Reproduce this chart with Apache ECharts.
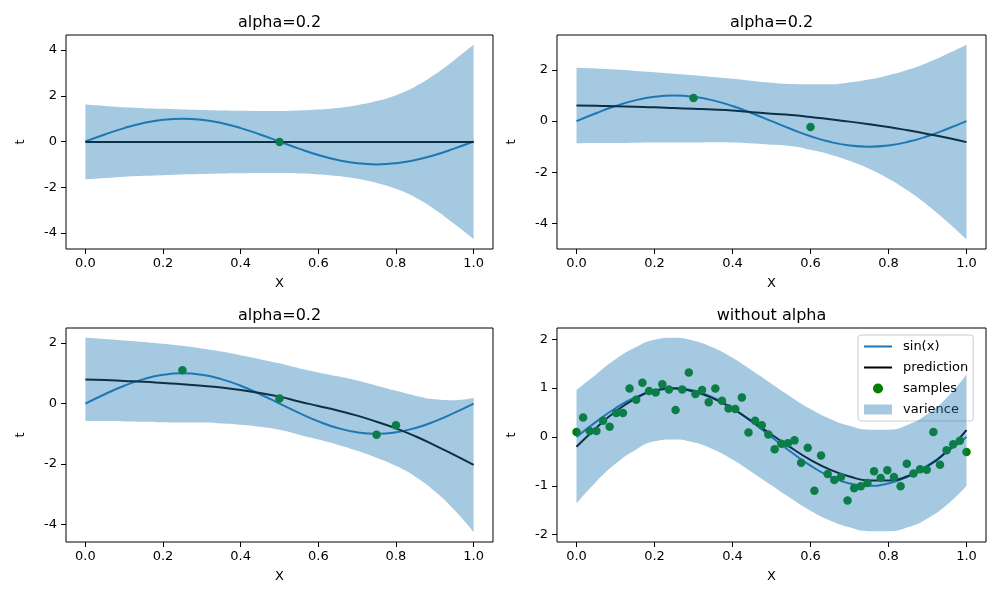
<!DOCTYPE html>
<html><head><meta charset="utf-8">
<script src="https://cdn.jsdelivr.net/npm/echarts@6/dist/echarts.min.js"></script>
<style>html,body{margin:0;padding:0;background:#fff}#c{width:1000px;height:600px}</style>
</head><body><div id="c"></div>
<script>
// ---- data ----
const xGrid = [0,0.05,0.1,0.15,0.2,0.25,0.3,0.35,0.4,0.45,0.5,0.55,0.6,0.65,0.7,0.75,0.8,0.85,0.9,0.95,1.0];
const sinVals = [0,0.309,0.588,0.809,0.951,1,0.951,0.809,0.588,0.309,0,-0.309,-0.588,-0.809,-0.951,-1,-0.951,-0.809,-0.588,-0.309,0];

// subplot 1 (alpha=0.2, one sample)
const pred1 = [-0.02,-0.02,-0.02,-0.02,-0.02,-0.02,-0.02,-0.02,-0.02,-0.02,-0.02,-0.02,-0.02,-0.02,-0.02,-0.02,-0.02,-0.02,-0.02,-0.02,-0.02];
const upper1 = [1.62,1.56,1.50,1.46,1.43,1.40,1.38,1.36,1.35,1.34,1.34,1.36,1.40,1.47,1.59,1.77,2.03,2.41,2.93,3.56,4.23];
const lower1 = [-1.66,-1.60,-1.54,-1.50,-1.47,-1.44,-1.42,-1.40,-1.39,-1.38,-1.38,-1.40,-1.44,-1.51,-1.63,-1.81,-2.07,-2.45,-2.97,-3.60,-4.27];
const samplesX1 = [0.5];
const samplesY1 = [-0.02];

// subplot 2 (alpha=0.2, two samples)
const pred2 = [0.61,0.60,0.58,0.56,0.54,0.51,0.48,0.45,0.41,0.35,0.29,0.24,0.16,0.07,-0.02,-0.12,-0.23,-0.36,-0.50,-0.65,-0.82];
const upper2 = [2.08,2.05,2.01,1.96,1.91,1.85,1.79,1.72,1.65,1.57,1.50,1.45,1.44,1.44,1.51,1.62,1.79,2.00,2.28,2.62,2.98];
const lower2 = [-0.86,-0.85,-0.85,-0.84,-0.83,-0.83,-0.83,-0.82,-0.83,-0.87,-0.92,-0.97,-1.12,-1.30,-1.55,-1.86,-2.25,-2.72,-3.28,-3.92,-4.62];
const samplesX2 = [0.3, 0.6];
const samplesY2 = [0.90, -0.23];

// subplot 3 (alpha=0.2, four samples)
const pred3 = [0.80,0.78,0.75,0.72,0.68,0.64,0.59,0.53,0.45,0.35,0.23,0.07,-0.08,-0.23,-0.40,-0.60,-0.82,-1.08,-1.38,-1.70,-2.03];
const upper3 = [2.18,2.14,2.09,2.04,1.98,1.91,1.82,1.72,1.60,1.47,1.33,1.17,1.03,0.90,0.76,0.59,0.42,0.26,0.14,0.11,0.19];
const lower3 = [-0.58,-0.58,-0.59,-0.60,-0.62,-0.63,-0.63,-0.66,-0.70,-0.77,-0.87,-1.03,-1.19,-1.36,-1.56,-1.79,-2.06,-2.42,-2.90,-3.51,-4.25];
const samplesX3 = [0.25, 0.5, 0.75, 0.8];
const samplesY3 = [1.10, 0.17, -1.03, -0.72];

// subplot 4 (without alpha, 60 samples)
const pred4 = [-0.20,0.18,0.52,0.78,0.95,0.99,0.93,0.79,0.58,0.32,0.05,-0.22,-0.47,-0.67,-0.81,-0.89,-0.89,-0.80,-0.60,-0.29,0.14];
const upper4 = [0.96,1.28,1.59,1.83,1.99,2.03,1.97,1.83,1.62,1.36,1.09,0.82,0.57,0.37,0.23,0.15,0.15,0.25,0.47,0.81,1.28];
const lower4 = [-1.36,-0.92,-0.55,-0.27,-0.09,-0.05,-0.11,-0.25,-0.46,-0.72,-0.99,-1.26,-1.51,-1.71,-1.85,-1.93,-1.93,-1.85,-1.67,-1.39,-1.00];
const samplesX4 = [0,0.017,0.034,0.051,0.068,0.085,0.102,0.119,0.136,0.153,0.169,0.186,0.203,0.22,0.237,0.254,0.271,0.288,0.305,0.322,0.339,0.356,0.373,0.39,0.407,0.424,0.441,0.458,0.475,0.492,0.508,0.525,0.542,0.559,0.576,0.593,0.61,0.627,0.644,0.661,0.678,0.695,0.712,0.729,0.746,0.763,0.78,0.797,0.814,0.831,0.847,0.864,0.881,0.898,0.915,0.932,0.949,0.966,0.983,1.0];
const samplesY4 = [0.10,0.40,0.12,0.12,0.33,0.21,0.49,0.49,0.99,0.76,1.11,0.94,0.91,1.08,0.97,0.55,0.97,1.32,0.88,0.96,0.71,0.99,0.74,0.58,0.57,0.81,0.09,0.33,0.24,0.05,-0.25,-0.14,-0.13,-0.07,-0.53,-0.22,-1.10,-0.38,-0.76,-0.88,-0.82,-1.30,-1.05,-1.01,-0.94,-0.70,-0.84,-0.68,-0.82,-1.01,-0.55,-0.75,-0.66,-0.67,0.10,-0.57,-0.27,-0.15,-0.08,-0.31];

const xTicks = [0,0.2,0.4,0.6,0.8,1.0];
const yTicks1 = [-4,-2,0,2,4];
const yTicks2 = [-4,-2,0,2];
const yTicks3 = [-4,-2,0,2];
const yTicks4 = [-2,-1,0,1,2];
const titles = ['alpha=0.2','alpha=0.2','alpha=0.2','without alpha'];
const legendNames = ['sin(x)','prediction','samples','varience'];

// ---- layout ----
const FONT = 'DejaVu Sans';
const grids = [
  {left:66, top:35, width:427, height:214},
  {left:557, top:35, width:429, height:214},
  {left:66, top:328, width:427, height:214},
  {left:557, top:328, width:429, height:214}
];
const yRanges = [[-4.7,4.66],[-4.99,3.36],[-4.58,2.5],[-2.15,2.23]];
const yTicks = [yTicks1,yTicks2,yTicks3,yTicks4];
const panels = [
  {pred:pred1, upper:upper1, lower:lower1, sx:samplesX1, sy:samplesY1},
  {pred:pred2, upper:upper2, lower:lower2, sx:samplesX2, sy:samplesY2},
  {pred:pred3, upper:upper3, lower:lower3, sx:samplesX3, sy:samplesY3},
  {pred:pred4, upper:upper4, lower:lower4, sx:samplesX4, sy:samplesY4}
];

const BLUE = '#1f77b4';
const BAND = 'rgba(31,119,180,0.4)';

const xAxes = grids.map((g,i)=>({
  type:'value', gridIndex:i, min:-0.05, max:1.05,
  name:'X', nameLocation:'middle', nameGap:28,
  nameTextStyle:{fontFamily:FONT, fontSize:13, color:'#000'},
  axisLine:{show:false, onZero:false},
  splitLine:{show:false},
  axisTick:{show:true, length:5, lineStyle:{color:'#000', width:1}, customValues:xTicks},
  axisLabel:{fontFamily:FONT, fontSize:13, color:'#000', margin:8, customValues:xTicks,
    formatter:v=>Number(v).toFixed(1)}
}));
const yAxes = grids.map((g,i)=>({
  type:'value', gridIndex:i, min:yRanges[i][0], max:yRanges[i][1],
  name:'t', nameLocation:'middle', nameGap:39,
  nameTextStyle:{fontFamily:FONT, fontSize:13, color:'#000'},
  axisLine:{show:false, onZero:false},
  splitLine:{show:false},
  axisTick:{show:true, length:5, lineStyle:{color:'#000', width:1}, customValues:yTicks[i]},
  axisLabel:{fontFamily:FONT, fontSize:13, color:'#000', margin:9, customValues:yTicks[i],
    formatter:v=>String(Math.round(v))}
}));

const series = [];
panels.forEach((p,i)=>{
  const isLegend = i===3;
  series.push({
    name: isLegend ? legendNames[0] : 'sin'+i, type:'line', xAxisIndex:i, yAxisIndex:i,
    data: xGrid.map((x,k)=>[x, sinVals[k]]), smooth:true, symbol:'none',
    color: BLUE, lineStyle:{color:BLUE, width:2}, z:2, silent:true
  });
  series.push({
    name: isLegend ? legendNames[1] : 'pred'+i, type:'line', xAxisIndex:i, yAxisIndex:i,
    data: xGrid.map((x,k)=>[x, p.pred[k]]), smooth:true, symbol:'none',
    color: '#000', lineStyle:{color:'#000', width:2}, z:2, silent:true
  });
  series.push({
    name: isLegend ? legendNames[2] : 'samp'+i, type:'scatter', xAxisIndex:i, yAxisIndex:i,
    data: p.sx.map((x,k)=>[x, p.sy[k]]), symbol:'circle', symbolSize:8.5,
    color:'#008000', itemStyle:{color:'#008000', opacity:1}, z:3, silent:true
  });
  // band: value column first so that stacking happens on the y dimension
  series.push({
    name: 'low'+i, type:'line', xAxisIndex:i, yAxisIndex:i,
    data: xGrid.map((x,k)=>[p.lower[k], x]), encode:{x:1, y:0}, smooth:true, symbol:'none',
    stack:'band'+i, stackStrategy:'all',
    lineStyle:{width:0, opacity:0}, z:5, silent:true
  });
  series.push({
    name: isLegend ? legendNames[3] : 'band'+i, type:'line', xAxisIndex:i, yAxisIndex:i,
    data: xGrid.map((x,k)=>[p.upper[k]-p.lower[k], x]), encode:{x:1, y:0}, smooth:true, symbol:'none',
    stack:'band'+i, stackStrategy:'all',
    color: BAND, itemStyle:{color:BAND},
    lineStyle:{width:0, opacity:0}, areaStyle:{color:BAND, opacity:1}, z:5, silent:true
  });
});

const titleOpts = grids.map((g,i)=>({
  text: titles[i], left: g.left + g.width/2, top: g.top - 20, textAlign:'center', padding:0,
  textStyle:{fontFamily:FONT, fontSize:16, fontWeight:'normal', color:'#000'}
}));

const linePath = 'path://M0,0H28V2H0Z';
const option = {
  animation:false,
  backgroundColor:'#fff',
  title: titleOpts,
  grid: grids.map(g=>Object.assign({show:true, borderColor:'#000', borderWidth:1, backgroundColor:'transparent', containLabel:false}, g)),
  xAxis: xAxes,
  yAxis: yAxes,
  legend: {
    left:858, top:335, orient:'vertical', align:'left',
    itemWidth:28, itemHeight:10, itemGap:8, padding:[5,5,5,6],
    borderColor:'#cccccc', borderWidth:1, borderRadius:3, backgroundColor:'rgba(255,255,255,0.8)',
    selectedMode:false, symbolKeepAspect:true,
    textStyle:{fontFamily:FONT, fontSize:13, color:'#000', padding:[0,0,0,6]},
    data:[
      {name:legendNames[0], icon:linePath},
      {name:legendNames[1], icon:linePath},
      {name:legendNames[2], icon:'circle'},
      {name:legendNames[3], icon:'rect'}
    ]
  },
  series: series
};
const chart = echarts.init(document.getElementById('c'), null, {renderer:'canvas'});
chart.setOption(option);
</script>
</body></html>
